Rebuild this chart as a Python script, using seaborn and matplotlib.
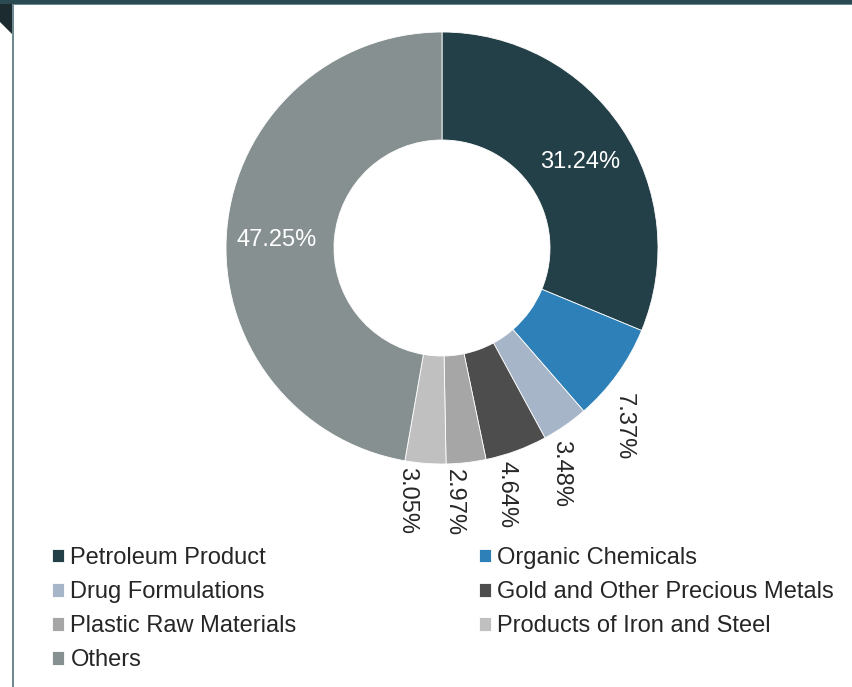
import numpy as np
import matplotlib
matplotlib.use('Agg')
import matplotlib.pyplot as plt
import seaborn as sns
from matplotlib.patches import Rectangle, Polygon
from matplotlib.transforms import offset_copy

categories = ['Petroleum Product', 'Organic Chemicals', 'Drug Formulations',
              'Gold and Other Precious Metals', 'Plastic Raw Materials',
              'Products of Iron and Steel', 'Others']
shares = [31.24, 7.37, 3.48, 4.64, 2.97, 3.05, 47.25]
colors = ['#233f47', '#2e80b8', '#a7b5c8', '#4d4d4d', '#a6a6a6', '#c0c0c0', '#879091']
inside = [True, False, False, False, False, False, True]

sns.set_theme(style='white')
plt.rcParams['font.family'] = ['Liberation Sans', 'DejaVu Sans']

W, H = 852, 687
FS = 17
fig = plt.figure(figsize=(W / 100, H / 100), dpi=100)
fig.patch.set_facecolor('white')

def px(x, y):
    return (x / W, 1 - y / H)

# decoration: top bar, left rule, corner tab
fig.add_artist(Rectangle(px(0, 4), 1, 4 / H, transform=fig.transFigure, color='#2b4a52', lw=0))
fig.add_artist(Rectangle(px(0, 5), 1, 1 / H, transform=fig.transFigure, color='#6f8a90', lw=0))
fig.add_artist(Rectangle(px(12, H), 2 / W, (H - 4) / H, transform=fig.transFigure, color='#6f8a90', lw=0))
fig.add_artist(Polygon([px(0, 4), px(12, 4), px(12, 34), px(0, 22)], closed=True,
                       transform=fig.transFigure, color='#1c2b2f', lw=0))

ax = fig.add_axes([226 / W, 1 - 464 / H, 432 / W, 432 / H])
wedges, texts, autotexts = ax.pie(
    shares, colors=colors, startangle=90, counterclock=False,
    wedgeprops=dict(width=0.5, edgecolor='white', linewidth=0.6),
    autopct='%.2f%%', pctdistance=0.77,
    textprops=dict(fontsize=FS, color='white'))
ax.set_xlim(-1, 1)
ax.set_ylim(-1, 1)
ax.set_aspect('auto')

# small slices: rotated labels outside the ring
for w, t, ins in zip(wedges, autotexts, inside):
    if ins:
        t.set_transform(offset_copy(ax.transData, fig=fig, y=-4.5, units='points'))
        continue
    mid = (w.theta1 + w.theta2) / 2
    ang = np.deg2rad(mid - (3 + 7 * abs(np.cos(np.deg2rad(mid)))))
    t.set_position((1.18 * np.cos(ang), 1.18 * np.sin(ang)))
    t.set_rotation(270)
    t.set_color('#262626')
    t.set_ha('center')
    t.set_va('center')

# legend reads row by row: two columns
order = [0, 2, 4, 6, 1, 3, 5]
fig.legend([wedges[i] for i in order], [categories[i] for i in order],
           ncol=2, loc='upper left', bbox_to_anchor=px(43, 537.5),
           frameon=False, fontsize=FS,
           handlelength=0.51, handleheight=0.51, handletextpad=0.25,
           labelspacing=0.515, columnspacing=7.71, borderaxespad=0)

fig.savefig('out.png', dpi=100)
